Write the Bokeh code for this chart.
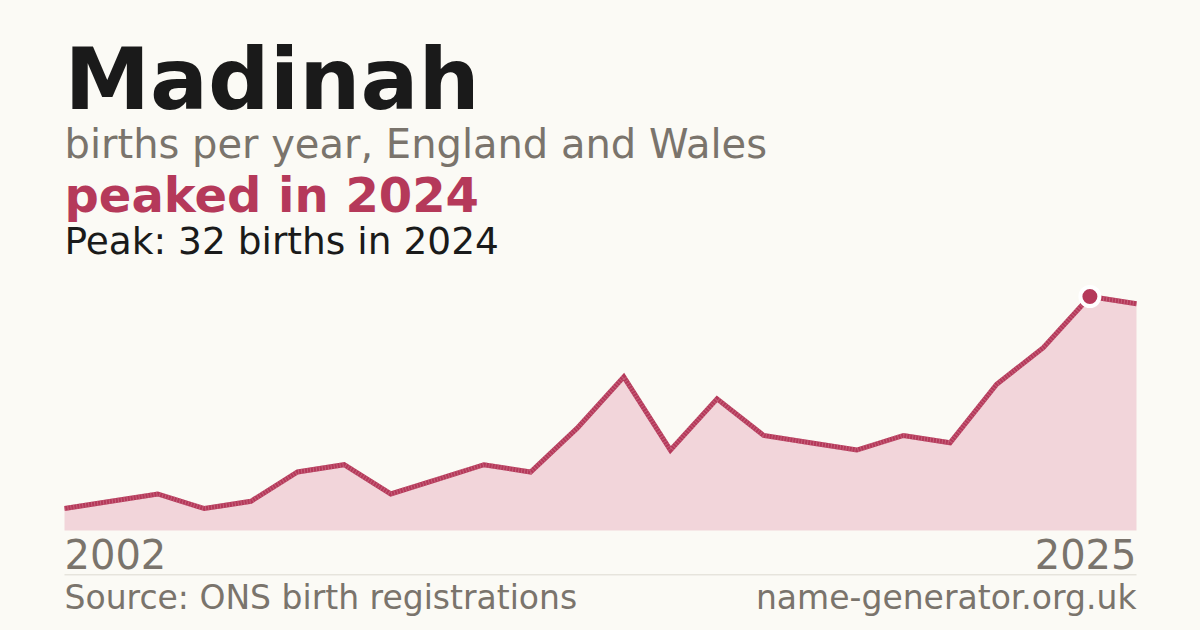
from bokeh.plotting import figure
from bokeh.models import Range1d, Label
from bokeh.embed import file_html
from bokeh.resources import INLINE

years = list(range(2002, 2026))
births = [3, 4, 5, 3, 4, 8, 9, 5, 7, 9, 8, 14, 21, 11, 18, 13, 12, 11, 13, 12, 20, 25, 32, 31]
peak_year = 2024
peak_value = 32

title_text = "Madinah"
subtitle_text = "births per year, England and Wales"
headline_text = "peaked in 2024"
peak_text = "Peak: 32 births in 2024"
start_label = "2002"
end_label = "2025"
source_text = "Source: ONS birth registrations"
site_text = "name-generator.org.uk"

BG = "#fbfaf5"
ACCENT = "#b5395a"
GREY = "#7a746c"
DARK = "#1a1a1a"
FONT = "DejaVu Sans"

W, H = 1200, 630
p = figure(width=W, height=H, output_backend="svg", toolbar_location=None,
           x_range=Range1d(2000.6269, 2026.3731), y_range=Range1d(-13.675, 72.479),
           min_border=0, min_border_left=0, min_border_right=0,
           min_border_top=0, min_border_bottom=0)
p.axis.visible = False
p.grid.visible = False
p.outline_line_color = None
p.background_fill_color = BG
p.border_fill_color = BG

p.varea(x=years, y1=[0] * len(years), y2=births, fill_color="#f2d5da")
p.line(years, births, line_color=ACCENT, line_width=5, line_join="miter")
p.line(years, births, line_color="#d07a90", line_width=5, line_dash="1 2", line_alpha=0.6)
p.scatter([peak_year], [peak_value], size=19, fill_color=ACCENT, line_color="white", line_width=4)

# separator line
p.segment(x0=[2002], y0=[-6.06], x1=[2025], y1=[-6.06], line_color="#dcd9d1", line_width=1)

def lab(text, x, y, size, color, bold=False, align="left"):
    p.add_layout(Label(x=x, y=y, text=text, text_font=FONT, text_font_size=f"{size}px",
                       text_color=color, text_font_style="bold" if bold else "normal",
                       text_align=align, text_baseline="alphabetic"))

lab(title_text, 2002, 61.72, 86, DARK, bold=True)
lab(subtitle_text, 2002, 52.85, 40, GREY)
lab(headline_text, 2002, 45.85, 48, ACCENT, bold=True)
lab(peak_text, 2002, 39.59, 37.5, DARK)
lab(start_label, 2002, -3.28, 40, GREY)
lab(end_label, 2025, -3.28, 40, GREY, align="right")
lab(source_text, 2002, -9.13, 33, GREY)
lab(site_text, 2025, -9.13, 33, GREY, align="right")

html = file_html(p, INLINE)
html = html.replace("<head>", "<head><style>body{background:#fbfaf5;}</style>", 1)
open("out.html", "w").write(html)
